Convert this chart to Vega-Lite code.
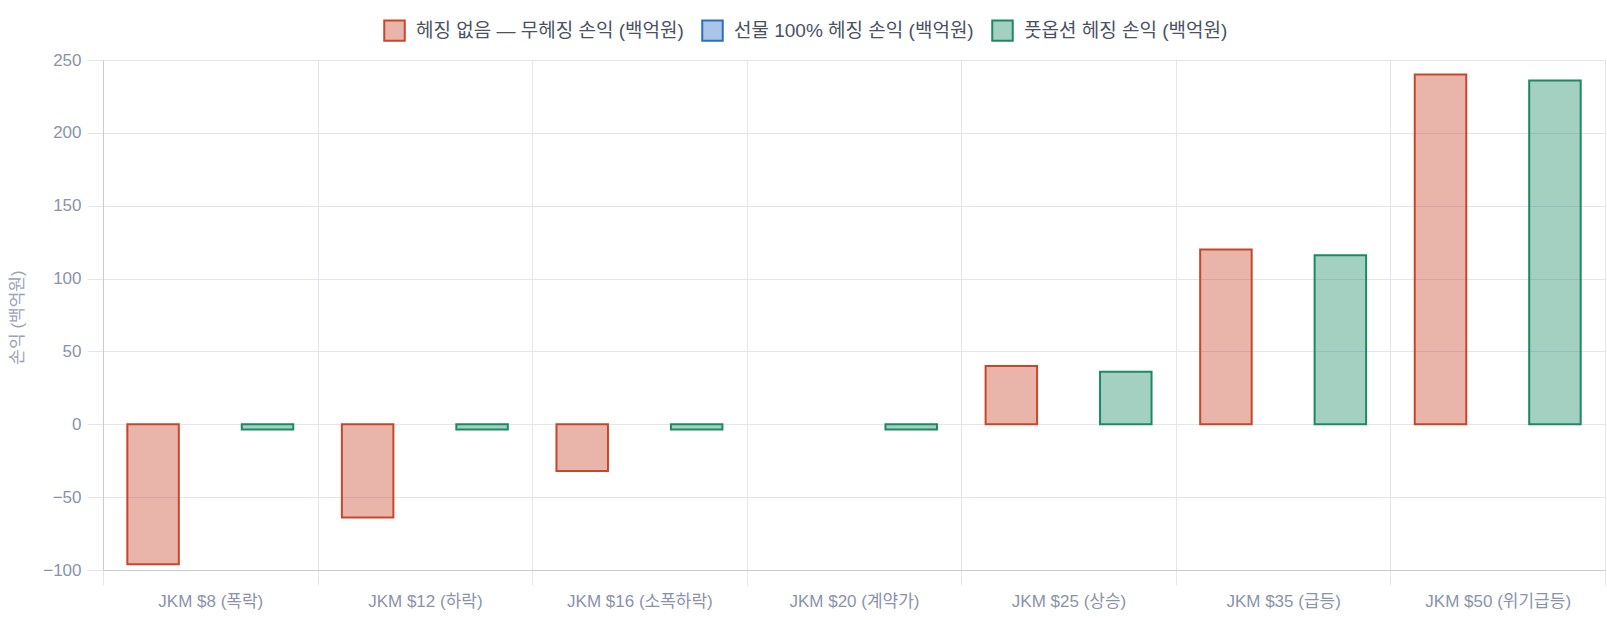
{
  "$schema": "https://vega.github.io/schema/vega-lite/v6.json",
  "width": 1502,
  "height": 510,
  "autosize": "none",
  "padding": {"left": 103, "top": 60, "right": 2, "bottom": 50},
  "background": "white",
  "config": {
    "view": {"stroke": null},
    "font": "Liberation Sans, Noto Sans CJK KR",
    "axis": {"gridColor": "#e3e6ee", "tickColor": "#e3e6ee", "domainColor": "#c9ccd6", "labelColor": "#8b93ab", "labelFontSize": 17}
  },
  "data": {
    "values": [
      {"scenario": "JKM $8 (폭락)", "series": "헤징 없음 — 무헤징 손익 (백억원)", "value": -96},
      {"scenario": "JKM $8 (폭락)", "series": "선물 100% 헤징 손익 (백억원)", "value": 0},
      {"scenario": "JKM $8 (폭락)", "series": "풋옵션 헤징 손익 (백억원)", "value": -3.5},
      {"scenario": "JKM $12 (하락)", "series": "헤징 없음 — 무헤징 손익 (백억원)", "value": -64},
      {"scenario": "JKM $12 (하락)", "series": "선물 100% 헤징 손익 (백억원)", "value": 0},
      {"scenario": "JKM $12 (하락)", "series": "풋옵션 헤징 손익 (백억원)", "value": -3.5},
      {"scenario": "JKM $16 (소폭하락)", "series": "헤징 없음 — 무헤징 손익 (백억원)", "value": -32},
      {"scenario": "JKM $16 (소폭하락)", "series": "선물 100% 헤징 손익 (백억원)", "value": 0},
      {"scenario": "JKM $16 (소폭하락)", "series": "풋옵션 헤징 손익 (백억원)", "value": -3.5},
      {"scenario": "JKM $20 (계약가)", "series": "헤징 없음 — 무헤징 손익 (백억원)", "value": 0},
      {"scenario": "JKM $20 (계약가)", "series": "선물 100% 헤징 손익 (백억원)", "value": 0},
      {"scenario": "JKM $20 (계약가)", "series": "풋옵션 헤징 손익 (백억원)", "value": -3.5},
      {"scenario": "JKM $25 (상승)", "series": "헤징 없음 — 무헤징 손익 (백억원)", "value": 40},
      {"scenario": "JKM $25 (상승)", "series": "선물 100% 헤징 손익 (백억원)", "value": 0},
      {"scenario": "JKM $25 (상승)", "series": "풋옵션 헤징 손익 (백억원)", "value": 36},
      {"scenario": "JKM $35 (급등)", "series": "헤징 없음 — 무헤징 손익 (백억원)", "value": 120},
      {"scenario": "JKM $35 (급등)", "series": "선물 100% 헤징 손익 (백억원)", "value": 0},
      {"scenario": "JKM $35 (급등)", "series": "풋옵션 헤징 손익 (백억원)", "value": 116},
      {"scenario": "JKM $50 (위기급등)", "series": "헤징 없음 — 무헤징 손익 (백억원)", "value": 240},
      {"scenario": "JKM $50 (위기급등)", "series": "선물 100% 헤징 손익 (백억원)", "value": 0},
      {"scenario": "JKM $50 (위기급등)", "series": "풋옵션 헤징 손익 (백억원)", "value": 236}
    ]
  },
  "mark": {"type": "bar", "strokeWidth": 2},
  "encoding": {
    "x": {
      "field": "scenario",
      "type": "nominal",
      "sort": null,
      "scale": {"paddingInner": 0, "paddingOuter": 0},
      "axis": {"title": null, "labelAngle": 0, "tickBand": "extent", "grid": true, "tickSize": 15, "labelPadding": 8}
    },
    "xOffset": {
      "field": "series",
      "type": "nominal",
      "sort": null,
      "scale": {"paddingInner": 0.1, "paddingOuter": 0.425}
    },
    "y": {
      "field": "value",
      "type": "quantitative",
      "scale": {"domain": [-100, 250], "nice": false},
      "axis": {
        "title": "손익 (백억원)",
        "values": [-100, -50, 0, 50, 100, 150, 200, 250],
        "tickSize": 16,
        "labelPadding": 6,
        "titleColor": "#9aa2b8",
        "titleFontSize": 17,
        "titleFontWeight": "normal",
        "titleX": -77,
        "titleY": 257
      }
    },
    "fill": {
      "field": "series",
      "type": "nominal",
      "sort": null,
      "scale": {
        "domain": ["헤징 없음 — 무헤징 손익 (백억원)", "선물 100% 헤징 손익 (백억원)", "풋옵션 헤징 손익 (백억원)"],
        "range": ["rgba(200,70,42,0.4)", "rgba(42,111,192,0.4)", "rgba(27,138,99,0.4)"]
      },
      "legend": {
        "orient": "none",
        "direction": "horizontal",
        "legendX": 280,
        "legendY": -41,
        "title": null,
        "symbolType": "square",
        "symbolSize": 420,
        "symbolStrokeWidth": 2,
        "labelFontSize": 19,
        "labelLimit": 0,
        "labelColor": "#4a5163",
        "labelOffset": 10,
        "columnPadding": 14
      }
    },
    "stroke": {
      "field": "series",
      "type": "nominal",
      "sort": null,
      "scale": {
        "domain": ["헤징 없음 — 무헤징 손익 (백억원)", "선물 100% 헤징 손익 (백억원)", "풋옵션 헤징 손익 (백억원)"],
        "range": ["#c8462a", "#2a6fc0", "#1b8a63"]
      }
    },
    "strokeWidth": {"condition": {"test": "datum.value === 0", "value": 0}, "value": 2}
  }
}
